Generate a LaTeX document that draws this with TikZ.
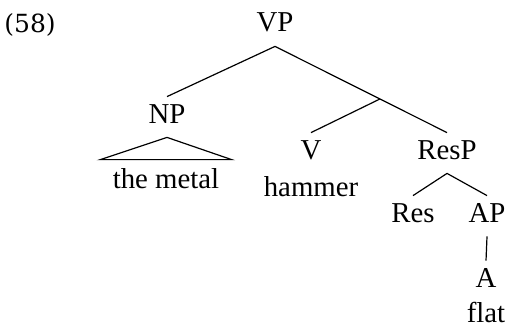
\documentclass[tikz,border=0pt]{standalone}
\usepackage{fontspec}
\setmainfont{Liberation Serif}
\newfontfamily\exfont{DejaVu Serif}
\usetikzlibrary{calc}
\tikzset{x=0.5pt, y=-0.5pt, % one unit per pixel, y counts downwards
      cat/.style={ % Category labels, fixed height so branches meet them evenly
      inner sep=0pt, anchor=base,
      text height=13pt, text depth=7pt,
      font=\fontsize{14.4}{17}\selectfont},
      word/.style={ % Terminal strings under the categories
      inner sep=0pt, anchor=base,
      text height=14pt, text depth=0pt,
      font=\fontsize{14.4}{17}\selectfont},
      branch/.style={line width=0.6pt}}

\begin{document}
\begin{tikzpicture}
      \useasboundingbox (0,0) rectangle (506,326);
      \node[anchor=base west, inner sep=0pt, font=\exfont\fontsize{12.5}{15}\selectfont] (ex) at (4,33) {(58)};
      \node[cat] (vp) at (275,32) {VP};
      \node[cat] (np) at (167,123) {NP};
      \node[cat] (v) at (311,159) {V};
      \node[cat] (resp) at (447,159) {ResP};
      \node[cat] (res) at (413,222) {Res};
      \node[cat] (ap) at (487,222) {AP};
      \node[cat] (a) at (486,287) {A};
      \node[word] (metal) at (166,188) {the metal};
      \node[word] (hammer) at (311,196) {hammer};
      \node[word] (flat) at (486,322) {flat};
      \coordinate (vbar) at ($(vp.south)!0.61!(resp.north)$);
      \draw[branch] (vp.south) -- (np.north);
      \draw[branch] (vp.south) -- (resp.north);
      \draw[branch] (vbar) -- (v.north);
      \draw[branch] (resp.south) -- (res.north);
      \draw[branch] (resp.south) -- (ap.north);
      \draw[branch] (ap.south) -- (a.north);
      % roof over the unanalysed NP
      \draw[branch] (np.south) -- ([xshift=-6pt]metal.north west) -- ([xshift=6pt]metal.north east) -- cycle;
    \end{tikzpicture}
\end{document}
